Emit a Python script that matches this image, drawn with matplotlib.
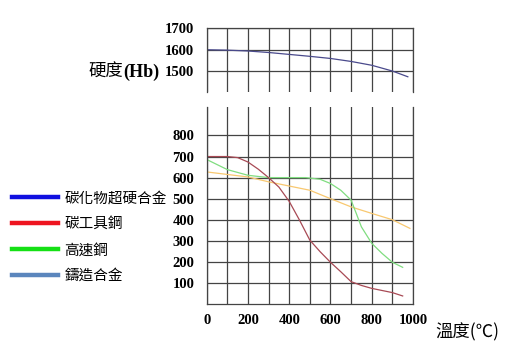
import matplotlib
matplotlib.use('Agg')
import matplotlib.pyplot as plt
from matplotlib.lines import Line2D
import numpy as np

# data
carbide_t = [0, 100, 200, 300, 400, 500, 600, 700, 800, 900, 975]
carbide_hb = [1600, 1598, 1594, 1587, 1578, 1569, 1559, 1545, 1527, 1500, 1473]

carbon_t = [0, 100, 150, 200, 250, 300, 350, 400, 450, 500, 550, 600, 650, 700, 750, 800, 900, 950]
carbon_hb = [700, 700, 695, 674, 640, 600, 555, 487, 398, 303, 248, 198, 153, 106, 88, 74, 54, 38]

hss_t = [0, 100, 200, 300, 480, 550, 600, 650, 700, 725, 750, 800, 850, 900, 950]
hss_hb = [686, 638, 611, 600, 600, 592, 572, 540, 493, 430, 366, 288, 240, 198, 174]

cast_t = [0, 100, 200, 300, 400, 500, 600, 700, 800, 900, 985]
cast_hb = [627, 615, 603, 580, 560, 540, 500, 461, 430, 400, 359]

legend_labels = ['碳化物超硬合金', '碳工具鋼', '高速鋼', '鑄造合金']
legend_colors = ['#1010e0', '#ee1520', '#15e015', '#5b86bd']

top_yticks = [1500, 1600, 1700]
bot_yticks = [100, 200, 300, 400, 500, 600, 700, 800]
xticks = [0, 200, 400, 600, 800, 1000]

num_font = {'family': 'Liberation Serif', 'weight': 'bold', 'size': 10.5}
cjk = 'Noto Sans CJK TC'
grid_c = '#444444'

fig = plt.figure(figsize=(5.17, 3.51), dpi=100)
ax_top = fig.add_axes([0.3998, 0.737, 0.3990, 0.182])
ax_bot = fig.add_axes([0.3998, 0.134, 0.3990, 0.561])

for ax in (ax_top, ax_bot):
    ax.set_xlim(0, 1000)
    ax.set_xticks(xticks)
    ax.set_xticks(np.arange(0, 1001, 100), minor=True)
    ax.grid(True, which='both', color=grid_c, linewidth=0.9)
    ax.tick_params(which='both', length=0)
    for s in ax.spines.values():
        s.set_color(grid_c)
        s.set_linewidth(0.9)
    ax.set_axisbelow(True)

ax_top.set_ylim(1400, 1700)
ax_top.set_yticks(top_yticks)
ax_top.spines['bottom'].set_visible(False)
ax_top.set_xticklabels([])
ax_top.set_yticklabels([str(v) for v in top_yticks], fontdict=num_font)
ax_top.tick_params(axis='y', pad=9)
ax_top.plot(carbide_t, carbide_hb, color='#4a4a8c', linewidth=0.9)

ax_bot.set_ylim(0, 935)
ax_bot.set_yticks(bot_yticks)
ax_bot.spines['top'].set_visible(False)
ax_bot.set_yticklabels([str(v) for v in bot_yticks], fontdict=num_font)
ax_bot.set_xticklabels([str(v) for v in xticks], fontdict=num_font)
ax_bot.tick_params(axis='y', pad=9)
ax_bot.tick_params(axis='x', pad=7)
ax_bot.plot(cast_t, cast_hb, color='#f8c870', linewidth=0.9)
ax_bot.plot(hss_t, hss_hb, color='#80dd80', linewidth=0.9)
ax_bot.plot(carbon_t, carbon_hb, color='#a84a55', linewidth=0.9)

# axis titles
fig.text(0.238, 0.795, '硬度', family=cjk, fontsize=12.5, ha='right', va='center')
fig.text(0.238, 0.795, '(Hb)', family='Liberation Serif', weight='bold', fontsize=13, ha='left', va='center')
fig.text(0.842, 0.052, '溫度(℃)', family=cjk, fontsize=12.5, ha='left', va='center')

handles = [Line2D([], [], color=c, linewidth=3.2) for c in legend_colors]
fig.legend(handles, legend_labels, loc='upper left', bbox_to_anchor=(0.023, 0.455),
           frameon=False, borderpad=0, borderaxespad=0, handlelength=3.15,
           handletextpad=0.45, labelspacing=0.82, prop={'family': cjk, 'size': 10.5})

fig.savefig('out.png', dpi=100)
